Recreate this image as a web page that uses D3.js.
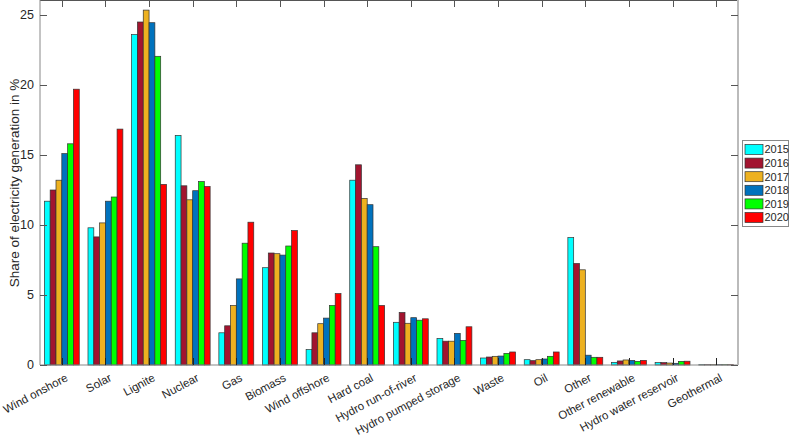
<!DOCTYPE html>
<html><head><meta charset="utf-8">
<script src="https://cdn.jsdelivr.net/npm/d3@7"></script>
<style>body{margin:0;background:#fff;} text{font-family:"Liberation Sans",Arial,Helvetica,sans-serif;fill:#262626;}</style>
</head><body>
<svg id="chart" width="790" height="439"></svg>
<script>
const categories = ["Wind onshore","Solar","Lignite","Nuclear","Gas","Biomass","Wind offshore","Hard coal","Hydro run-of-river","Hydro pumped storage","Waste","Oil","Other","Other renewable","Hydro water reservoir","Geothermal"];
const years = ["2015","2016","2017","2018","2019","2020"];
const colors = ["#00FFFF","#A2142F","#EDB120","#0072BD","#00FF00","#FF0000"];
const s2015 = [11.7, 9.8, 23.6, 16.4, 2.3, 6.95, 1.1, 13.2, 3.05, 1.9, 0.5, 0.38, 9.1, 0.19, 0.17, 0.02];
const s2016 = [12.5, 9.15, 24.5, 12.8, 2.8, 8.0, 2.3, 14.3, 3.75, 1.7, 0.57, 0.31, 7.25, 0.29, 0.17, 0.02];
const s2017 = [13.2, 10.15, 25.35, 11.8, 4.25, 7.95, 2.95, 11.9, 2.98, 1.7, 0.62, 0.38, 6.8, 0.36, 0.14, 0.02];
const s2018 = [15.1, 11.7, 24.45, 12.45, 6.15, 7.85, 3.35, 11.45, 3.38, 2.26, 0.64, 0.43, 0.7, 0.33, 0.12, 0.02];
const s2019 = [15.8, 12.0, 22.05, 13.1, 8.7, 8.5, 4.25, 8.45, 3.2, 1.76, 0.83, 0.62, 0.55, 0.26, 0.26, 0.02];
const s2020 = [19.7, 16.85, 12.9, 12.75, 10.2, 9.6, 5.1, 4.25, 3.3, 2.73, 0.93, 0.93, 0.55, 0.33, 0.27, 0.02];
const series = [s2015, s2016, s2017, s2018, s2019, s2020];
const yTicks = [0, 5, 10, 15, 20, 25];

const svg = d3.select("#chart");
const L = 40, R = 738, T = 1, B = 365;
const x = d3.scaleBand().domain(categories).range([L, R]).paddingInner(0.2).paddingOuter(0.1);
const xc = c => x(c) + x.bandwidth() / 2;
const xi = d3.scaleBand().domain(years).range([0, x.bandwidth()]);
const y = d3.scaleLinear().domain([0, 26]).range([B, T]);

// bars
const g = svg.append("g");
categories.forEach((c, ci) => {
  years.forEach((yr, si) => {
    const v = series[si][ci];
    g.append("rect")
      .attr("x", x(c) + xi(yr))
      .attr("width", xi.bandwidth())
      .attr("y", y(v))
      .attr("height", B - y(v))
      .attr("fill", colors[si])
      .attr("stroke", "#333")
      .attr("stroke-width", 0.7);
  });
});

// axes box
const axc = "#555";
svg.append("line").attr("x1", L).attr("x2", R).attr("y1", 0.5).attr("y2", 0.5).attr("stroke", axc);
svg.append("line").attr("x1", L).attr("x2", R).attr("y1", B).attr("y2", B).attr("stroke", "#888");
svg.append("line").attr("x1", L).attr("x2", L).attr("y1", 0).attr("y2", B).attr("stroke", "#888");
svg.append("line").attr("x1", R).attr("x2", R).attr("y1", 0).attr("y2", B).attr("stroke", "#bbb").attr("stroke-width", 2);

// x ticks (inside, top and bottom)
categories.forEach(c => {
  const cx = Math.round(xc(c)) + 0.5;
  svg.append("line").attr("x1", cx).attr("x2", cx).attr("y1", B).attr("y2", B - 7).attr("stroke", "#222").attr("stroke-width", 1);
  svg.append("line").attr("x1", cx).attr("x2", cx).attr("y1", 0).attr("y2", 7).attr("stroke", axc);
});
// y ticks (inside, left and right)
yTicks.forEach(t => {
  const ty = Math.round(y(t)) + 0.5;
  svg.append("line").attr("x1", L).attr("x2", L + 7).attr("y1", ty).attr("y2", ty).attr("stroke", axc);
  svg.append("line").attr("x1", R - 7).attr("x2", R).attr("y1", ty).attr("y2", ty).attr("stroke", axc);
  svg.append("text").attr("x", 34).attr("y", y(t)).attr("dy", "0.35em")
    .attr("text-anchor", "end").attr("font-size", "12.5px").text(t);
});

// x labels rotated
categories.forEach(c => {
  svg.append("text")
    .attr("transform", `translate(${xc(c) + 3},${B + 8}) rotate(-28)`)
    .attr("text-anchor", "end").attr("dy", "0.72em")
    .attr("font-size", "11.5px").text(c);
});

// y label
svg.append("text")
  .attr("transform", `translate(19,${(T + B) / 2}) rotate(-90)`)
  .attr("text-anchor", "middle").attr("font-size", "13.5px")
  .text("Share of electricity generation in %");

// legend
const lg = svg.append("g").attr("transform", "translate(742.5,140.5)");
lg.append("rect").attr("width", 46).attr("height", 86).attr("fill", "#fff").attr("stroke", "#888");
years.forEach((yr, i) => {
  const ry = 4 + i * 13.6;
  lg.append("rect").attr("x", 2.5).attr("y", ry).attr("width", 18).attr("height", 10)
    .attr("fill", colors[i]).attr("stroke", "#333").attr("stroke-width", 0.7);
  lg.append("text").attr("x", 22).attr("y", ry + 5).attr("dy", "0.36em")
    .attr("font-size", "11px").text(yr);
});
</script>
</body></html>
